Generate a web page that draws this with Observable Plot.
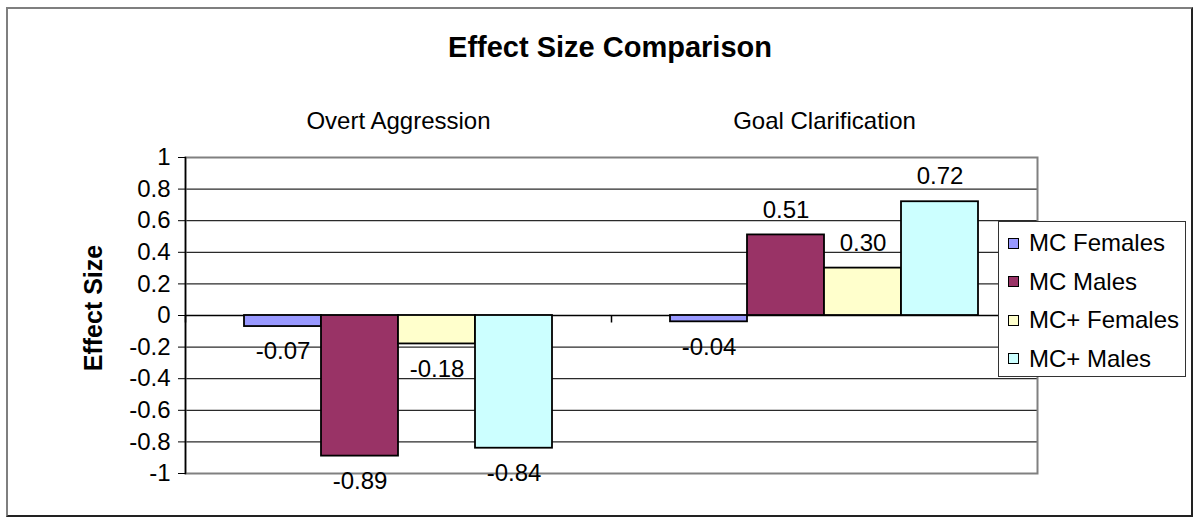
<!DOCTYPE html>
<html>
<head>
<meta charset="utf-8">
<script src="https://cdn.jsdelivr.net/npm/d3@7"></script>
<script src="https://cdn.jsdelivr.net/npm/@observablehq/plot@0.6"></script>
<style>
  html, body { margin: 0; padding: 0; background: #fff; }
  #chart {
    position: relative; width: 1195px; height: 520px; overflow: hidden;
    font-family: "Liberation Sans", Arial, sans-serif; color: #000;
  }
  #chart svg { position: absolute; left: 0; top: 0; }
  .outline {
    position: absolute; left: 6px; top: 7px; width: 1183px; height: 506px;
    border-left: 2px solid #7f7f7f; border-top: 2px solid #7f7f7f;
    border-right: 2px solid #222; border-bottom: 2px solid #222;
  }
  .title {
    position: absolute; left: 410px; top: 33px; width: 400px; text-align: center;
    font-weight: bold; font-size: 29px; line-height: 29px; white-space: nowrap;
  }
  .ytitle {
    position: absolute; left: 93px; top: 308px; white-space: nowrap;
    transform: translate(-50%, -50%) rotate(-90deg);
    font-weight: bold; font-size: 25px;
  }
  .legend {
    position: absolute; left: 998px; top: 221px; width: 186px; height: 154px;
    background: #fff; border: 1px solid #333;
  }
  .legend .row {
    position: absolute; left: 0; height: 30px; display: flex; align-items: center;
    font-size: 24px; white-space: nowrap;
  }
  .legend .sw {
    width: 9px; height: 9px; border: 1px solid #000; margin-left: 9px; margin-right: 10px;
  }
</style>
</head>
<body>
<div id="chart"></div>
<script>
// Effect sizes by group for the two outcome measures
const categories = ["Overt Aggression", "Goal Clarification"];
const series = ["MC Females", "MC Males", "MC+ Females", "MC+ Males"];
const overtAggression = [-0.07, -0.89, -0.18, -0.84];
const goalClarification = [-0.04, 0.51, 0.30, 0.72];
const seriesColors = ["#9999FF", "#993366", "#FFFFCC", "#CCFFFF"];
const yTicks = [1, 0.8, 0.6, 0.4, 0.2, 0, -0.2, -0.4, -0.6, -0.8, -1];

const valuesByCategory = [overtAggression, goalClarification];
const rows = categories.flatMap((category, i) =>
  series.map((s, j) => ({category, series: s, value: valuesByCategory[i][j]}))
);

// short vertical tick hanging below the category axis
const downTick = {draw(context) { context.moveTo(0, 0); context.lineTo(0, 7); }};

const chart = Plot.plot({
  width: 1195,
  height: 520,
  marginLeft: 185,
  marginRight: 158,
  marginTop: 157,
  marginBottom: 47,
  style: {fontFamily: "'Liberation Sans', Arial, sans-serif", fontSize: "24px", background: "transparent", color: "#000"},
  fx: {domain: categories, padding: 0, axis: null},
  x: {domain: series, paddingInner: 0, paddingOuter: 0.75, axis: null},
  y: {domain: [-1, 1], axis: null},
  color: {domain: series, range: seriesColors},
  marks: [
    Plot.ruleY(yTicks.filter(d => d !== 0), {stroke: "#2a2a2a", strokeWidth: 1.2}),
    Plot.frame({facet: "super", stroke: "#808080", strokeWidth: 2}),
    Plot.ruleY([0], {stroke: "#000", strokeWidth: 1.5}),
    Plot.dot(categories, {fx: d => d, y: () => 0, frameAnchor: "left", symbol: downTick, stroke: "#000", strokeWidth: 1.5, fill: "none"}),
    Plot.dot([categories[categories.length - 1]], {fx: d => d, y: () => 0, frameAnchor: "right", symbol: downTick, stroke: "#000", strokeWidth: 1.5, fill: "none"}),
    Plot.barY(rows, {fx: "category", x: "series", y: "value", fill: "series", stroke: "#000", strokeWidth: 1.8}),
    Plot.frame({facet: "super", anchor: "left", stroke: "#000", strokeWidth: 1.5}),
    Plot.axisY(yTicks, {tickSize: 7, tickPadding: 8, tickFormat: d => String(d), fontSize: 24, label: null}),
    Plot.text(categories, {fx: d => d, text: d => d, frameAnchor: "top", dy: -36, lineAnchor: "middle", fontSize: 24}),
    Plot.text(rows, {filter: d => d.value >= 0, fx: "category", x: "series", y: "value", text: d => d.value.toFixed(2), dy: -25, lineAnchor: "middle", fontSize: 24}),
    Plot.text(rows, {filter: d => d.value < 0, fx: "category", x: "series", y: "value", text: d => d.value.toFixed(2), dy: 25, lineAnchor: "middle", fontSize: 24})
  ]
});

const root = document.getElementById("chart");
const outline = document.createElement("div");
outline.className = "outline";
root.appendChild(outline);
root.appendChild(chart);

const title = document.createElement("div");
title.className = "title";
title.textContent = "Effect Size Comparison";
root.appendChild(title);

const ytitle = document.createElement("div");
ytitle.className = "ytitle";
ytitle.textContent = "Effect Size";
root.appendChild(ytitle);

// legend drawn from the color scale
const color = chart.scale("color");
const legend = document.createElement("div");
legend.className = "legend";
color.domain.forEach((name, i) => {
  const row = document.createElement("div");
  row.className = "row";
  row.style.top = (6 + i * 38.5) + "px";
  const sw = document.createElement("span");
  sw.className = "sw";
  sw.style.background = color.range[i];
  const label = document.createElement("span");
  label.textContent = name;
  row.appendChild(sw);
  row.appendChild(label);
  legend.appendChild(row);
});
root.appendChild(legend);
</script>
</body>
</html>
